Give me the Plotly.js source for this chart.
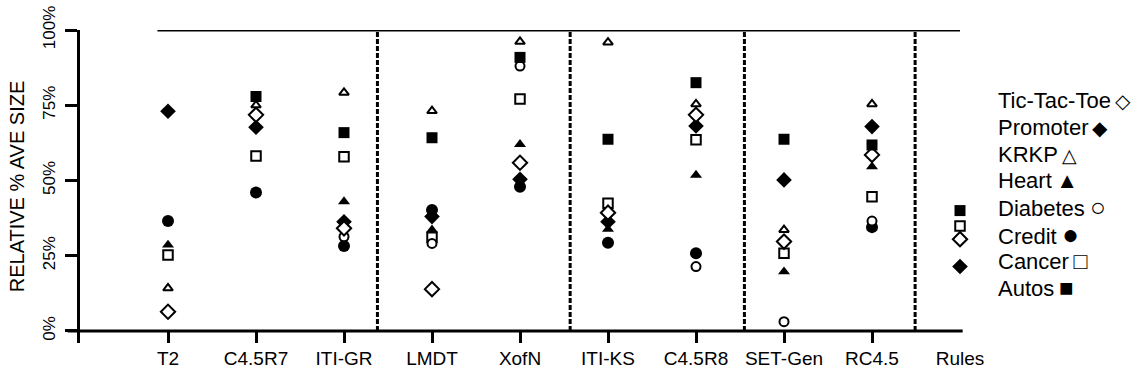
<!DOCTYPE html>
<html>
<head>
<meta charset="utf-8">
<script src="https://cdn.plot.ly/plotly-3.0.1.min.js"></script>
<style>html,body{margin:0;padding:0;background:#fff;}#chart{width:1140px;height:383px;}</style>
</head>
<body>
<div id="chart"></div>
<script>
var categories = ['T2','C4.5R7','ITI-GR','LMDT','XofN','ITI-KS','C4.5R8','SET-Gen','RC4.5','Rules'];
var yTickVals = [0, 25, 50, 75, 100];
var yTickText = ['0%', '25%', '50%', '75%', '100%'];

var ticTacToe = [6.4, 71.8, 34.1, 13.9, 55.9, 39.3, 71.8, 29.7, 58.5, 30.5];
var promoter  = [73, 67.7, 36.3, 38, 50.4, 36.3, 68.1, 50.2, 67.9, 21.4];
var krkp      = [14.2, 75, 79.2, 73.1, 96.1, 95.9, 75.4, 33.6, 75.4, 107.2];
var heart     = [28.6, null, 43, 33.6, 62, 33.8, 51.8, 19.7, 54.6, null];
var diabetes  = [null, null, 31.3, 29.1, 88, null, 21.4, 3.1, 36.5, null];
var credit    = [36.5, 46, 28.2, 40.2, 47.9, 29.3, 25.8, null, 34.5, null];
var cancer    = [25.2, 58.1, 57.9, 31.1, 77.1, 42.4, 63.5, 25.8, 44.6, 34.9];
var autos     = [null, 77.9, 65.9, 64.2, 90.9, 63.7, 82.5, 63.7, 61.8, 40];

var legendNames  = ['Tic-Tac-Toe','Promoter','KRKP','Heart','Diabetes','Credit','Cancer','Autos'];
var legendGlyphs = ['\u25C7','\u25C6','\u25B3','\u25B2','\u25CB','\u25CF','\u25A1','\u25A0'];
var glyphSizes   = [20, 20, 19, 22, 26, 28, 23, 24];

var yTitle = 'RELATIVE % AVE SIZE';
var FONT = 'Liberation Sans, Arial, Helvetica, sans-serif';

function mk(name, y, symbol, size, open) {
  return {
    type: 'scatter', mode: 'markers', name: name,
    x: categories, y: y, cliponaxis: false, showlegend: false,
    marker: {
      symbol: symbol, size: size,
      color: open ? '#ffffff' : '#000000',
      line: {color: '#000000', width: open ? 2 : 0}
    }
  };
}

var data = [
  mk('Credit', credit, 'circle', 12, false),
  mk('Heart', heart, 'triangle-up', 10.5, false),
  mk('Promoter', promoter, 'diamond', 12, false),
  mk('Cancer', cancer, 'square', 9.5, true),
  mk('Diabetes', diabetes, 'circle', 9, true),
  mk('Tic-Tac-Toe', ticTacToe, 'diamond', 11, true),
  mk('KRKP', krkp, 'triangle-up', 8.5, true),
  mk('Autos', autos, 'square', 11, false)
];

var dividers = [2.38, 4.57, 6.55, 8.49];
var shapes = dividers.map(function (d) {
  return {type: 'line', xref: 'x', yref: 'y', x0: d, x1: d, y0: 0, y1: 100,
          line: {color: '#000', width: 3, dash: '5px,2px'}};
});
shapes.push({type: 'line', xref: 'x', yref: 'y', x0: -0.12, x1: 9.02, y0: 100, y1: 100,
             line: {color: '#000', width: 3}});
shapes.push({type: 'line', xref: 'paper', yref: 'y', x0: -0.014, x1: 1.003, y0: 0, y1: 0,
             line: {color: '#000', width: 3}});

var annotations = legendNames.map(function (n, i) {
  return {
    xref: 'paper', yref: 'paper', x: 1.041, y: (343 - (101 + i * 26.6)) / 313,
    xanchor: 'left', yanchor: 'middle', align: 'left', showarrow: false,
    text: n + '<span style="font-size:' + glyphSizes[i] + 'px">\u2009' + legendGlyphs[i] + '</span>',
    font: {family: FONT, size: 22, color: '#000'}
  };
});

var layout = {
  width: 1140, height: 383,
  margin: {l: 80, r: 180, t: 30, b: 40, pad: 0},
  paper_bgcolor: '#fff', plot_bgcolor: '#fff',
  font: {family: FONT, color: '#000'},
  showlegend: false,
  xaxis: {
    type: 'category', categoryarray: categories, range: [-1, 9],
    showgrid: false, zeroline: false, showline: false,
    ticks: 'inside', ticklen: 11, tickwidth: 3, tickcolor: '#000',
    tickfont: {family: FONT, size: 19, color: '#000'},
    ticklabelstandoff: 2, fixedrange: true
  },
  yaxis: {
    range: [-4, 100], showgrid: false, zeroline: false,
    showline: true, linecolor: '#000', linewidth: 3,
    ticks: 'outside', ticklen: 12, tickwidth: 3, tickcolor: '#000',
    tickvals: yTickVals, ticktext: yTickText, tickangle: -90,
    tickfont: {family: FONT, size: 17, color: '#000'},
    ticklabelstandoff: 3,
    title: {text: yTitle, font: {family: FONT, size: 20, color: '#000'}, standoff: 11},
    fixedrange: true
  },
  shapes: shapes,
  annotations: annotations
};

Plotly.newPlot('chart', data, layout, {displayModeBar: false, staticPlot: true});
</script>
</body>
</html>
